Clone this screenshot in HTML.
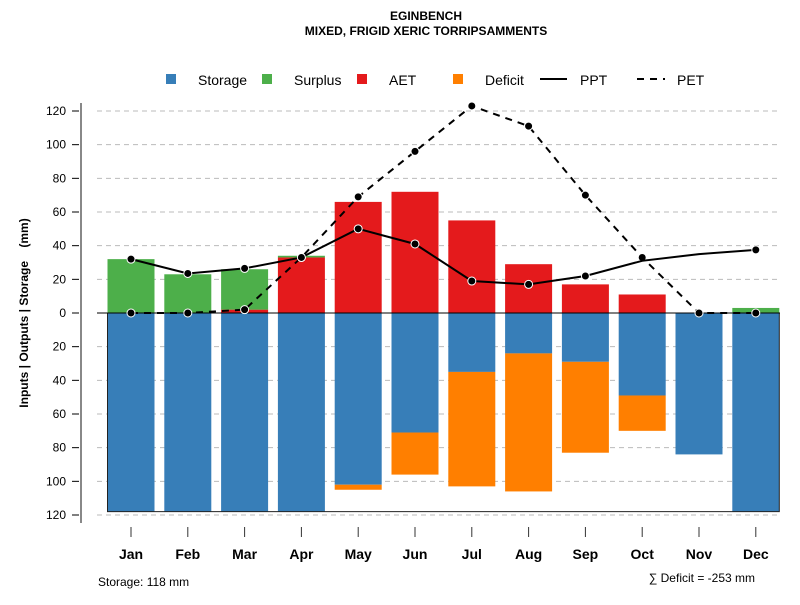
<!DOCTYPE html>
<html><head><meta charset="utf-8"><style>
body{margin:0;background:#fff;font-family:"Liberation Sans",sans-serif}
svg text{font-family:"Liberation Sans",sans-serif}
</style></head><body>
<svg id="c" width="800" height="600">
<text x="426" y="20" text-anchor="middle" font-size="12" font-weight="bold">EGINBENCH</text>
<text x="426" y="35" text-anchor="middle" font-size="12" font-weight="bold">MIXED, FRIGID XERIC TORRIPSAMMENTS</text>
<g font-size="14">
<rect x="166" y="74" width="10" height="10" fill="#377eb8"/>
<text x="198" y="85">Storage</text>
<rect x="262" y="74" width="10" height="10" fill="#4daf4a"/>
<text x="294" y="85">Surplus</text>
<rect x="357" y="74" width="10" height="10" fill="#e41a1c"/>
<text x="389" y="85">AET</text>
<rect x="453" y="74" width="10" height="10" fill="#ff7f00"/>
<text x="485" y="85">Deficit</text>
<line x1="540" y1="79" x2="567" y2="79" stroke="#000" stroke-width="2"/>
<text x="580" y="85">PPT</text>
<line x1="637" y1="79" x2="665" y2="79" stroke="#000" stroke-width="2" stroke-dasharray="7,6"/>
<text x="677" y="85">PET</text>
</g>
<text transform="translate(28,313) rotate(-90)" text-anchor="middle" font-size="12" font-weight="bold" style="white-space:pre">Inputs | Outputs | Storage    (mm)</text>
<text x="98" y="586" font-size="12">Storage: 118 mm</text>
<text x="755" y="582" text-anchor="end" font-size="12">∑ Deficit = -253 mm</text>
<g id="plot"></g>
</svg>
<script>
const months=["Jan","Feb","Mar","Apr","May","Jun","Jul","Aug","Sep","Oct","Nov","Dec"];
const storage=[118,118,118,118,102,71,35,24,29,49,84,118];
const deficit=[0,0,0,0,3,25,68,82,54,21,0,0];
const aet=[0,0,2,33,66,72,55,29,17,11,0,0];
const surplus=[32,23,24,1,0,0,0,0,0,0,0,3];
const ppt=[32,23.5,26.5,33,50,41,19,17,22,31,35,37.5];
const pet=[0,0,2,33,69,96,123,111,70,33,0,0];
const yTicks=[120,100,80,60,40,20,0,-20,-40,-60,-80,-100,-120];
const maxStorage=118;

const NS="http://www.w3.org/2000/svg";
const g=document.getElementById('plot');
const y=v=>313-v*(202/120);
const x=i=>131+i*56.8;
const bw=47;
function mk(t,a){const e=document.createElementNS(NS,t);for(const k in a)e.setAttribute(k,a[k]);g.appendChild(e);return e;}
let ax=mk('line',{x1:81,y1:y(120)-8,x2:81,y2:y(-120)+8,stroke:'#888','stroke-width':2});


yTicks.forEach(v=>{
 let gl=mk('line',{x1:97,y1:y(v),x2:780,y2:y(v),stroke:'#bbb','stroke-dasharray':'5,4'});
 
 
 let tk=mk('line',{x1:72,y1:y(v),x2:79,y2:y(v),stroke:'#000'});
 
 
 let t=mk('text',{x:66,y:y(v)+4,'text-anchor':'end','font-size':12});
 t.textContent=Math.abs(v);
 
 
});
months.forEach((m,i)=>{
 const cx=x(i),l=cx-bw/2;
 let r;
 r=mk('rect',{x:l,y:y(0),width:bw,height:y(-storage[i])-y(0),fill:'#377eb8'});
 
 
 if(deficit[i]>0){r=mk('rect',{x:l,y:y(-storage[i]),width:bw,height:y(-storage[i]-deficit[i])-y(-storage[i]),fill:'#ff7f00'});
 
 }
 if(aet[i]>0){r=mk('rect',{x:l,y:y(aet[i]),width:bw,height:y(0)-y(aet[i]),fill:'#e41a1c'});
 
 }
 if(surplus[i]>0){r=mk('rect',{x:l,y:y(aet[i]+surplus[i]),width:bw,height:y(aet[i])-y(aet[i]+surplus[i]),fill:'#4daf4a'});
 
 }
 let tk=mk('line',{x1:cx,y1:y(-120)+12,x2:cx,y2:y(-120)+22,stroke:'#333'});
 
 
 let t=mk('text',{x:cx,y:559,'text-anchor':'middle','font-size':14,'font-weight':'bold'});
 t.textContent=m;
 
 
});
let box=mk('rect',{x:x(0)-bw/2,y:y(0),width:x(11)+bw/2-(x(0)-bw/2),height:y(-maxStorage)-y(0),fill:'none',stroke:'#222','stroke-width':1});


let zl=mk('line',{x1:97,y1:y(0),x2:780,y2:y(0),stroke:'#000'});


function series(arr,dash,name,skip){
 const p=mk('polyline',{points:arr.map((v,i)=>x(i)+','+y(v)).join(' '),fill:'none',stroke:'#000','stroke-width':2,'stroke-dasharray':dash});
 
 
 arr.forEach((v,i)=>{ if(skip.includes(i))return;
  const c=mk('circle',{cx:x(i),cy:y(v),r:4,fill:'#000',stroke:'#fff','stroke-width':1});
  
  });
}
series(pet,'7,6','pet',[]);
series(ppt,'none','ppt',[9,10]);
</script>
</body></html>
